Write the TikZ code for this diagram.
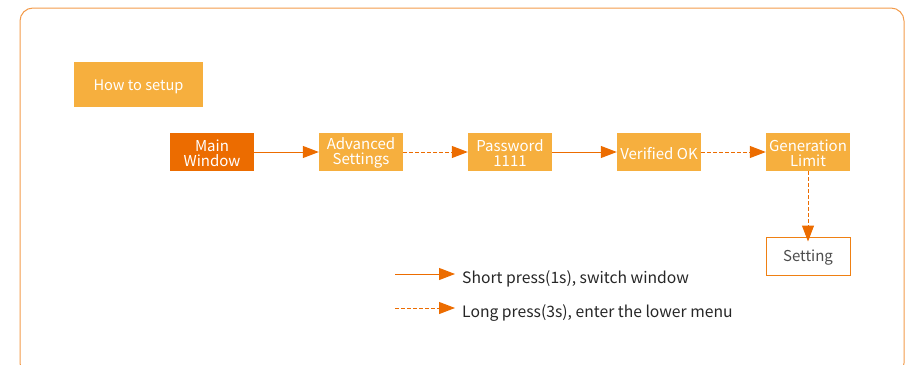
\documentclass[tikz,border=0pt]{standalone}
\usepackage{fontspec}
\setmainfont{Noto Sans CJK SC}
\usetikzlibrary{arrows.meta,positioning}
\definecolor{lorange}{HTML}{F6AF3E}
\definecolor{dorange}{HTML}{EC6C00}
\definecolor{frameor}{HTML}{F39B4B}
\definecolor{txtgray}{HTML}{4D4D4D}
\newcommand\bxs{\rule[-0.5pt]{0pt}{15pt}}

\begin{document}
\begin{tikzpicture}[x=1pt,y=-1pt,
  stp/.style={fill=lorange,text=white,minimum width=84pt,minimum height=38pt,inner sep=0pt,align=center,
    font=\fontsize{15}{15}\selectfont},
  go/.style={-{Triangle[length=16pt,width=12pt]},dorange,line width=1pt},
  godash/.style={go,dash pattern=on 3.5pt off 2.5pt}]
  \clip (0,0) rectangle (909,364);
  % frame
  \draw[frameor,line width=1pt,rounded corners=13pt] (20,8) rectangle (904,376);
  % title
  \node[fill=lorange,text=white,minimum width=129pt,minimum height=45pt,inner sep=0pt,
    font=\fontsize{14.6}{15}\selectfont] (title) at (138.5,84.5) {\bxs How to setup};
  % chain
  \node[stp,fill=dorange] (main) at (212,152) {\bxs Main\\\bxs Window};
  \node[stp] (adv) at (361,152) {\bxs Advanced\\\bxs Settings};
  \node[stp] (pwd) at (510,152) {\bxs Password\\\bxs 1111};
  \node[stp] (ok) at (659,152) {\bxs Verified OK};
  \node[stp] (gen) at (808,152) {\bxs Generation\\\bxs Limit};
  \node[stp,fill=white,draw=dorange!70!lorange,line width=1pt,text=txtgray] (set) at (808,256) {\bxs Setting};
  \draw[go] (main) -- (adv);
  \draw[godash] (adv) -- (pwd);
  \draw[go] (pwd) -- (ok);
  \draw[godash] (ok) -- (gen);
  \draw[godash] (gen) -- ([yshift=-5pt]set.north);
  % legend
  \coordinate (ls) at (395,274);
  \coordinate (ll) at (395,308);
  \node[anchor=west,inner sep=0pt,text=black!85,font=\fontsize{15.7}{17}\selectfont] (lst) at (462,279) {Short press(1s), switch window};
  \node[anchor=west,inner sep=0pt,text=black!85,font=\fontsize{15.7}{17}\selectfont] (llt) at (462,313) {Long press(3s), enter the lower menu};
  \draw[go] (ls) -- ([xshift=-7pt]lst.west |- ls);
  \draw[godash] (ll) -- ([xshift=-7pt]llt.west |- ll);
\end{tikzpicture}
\end{document}
